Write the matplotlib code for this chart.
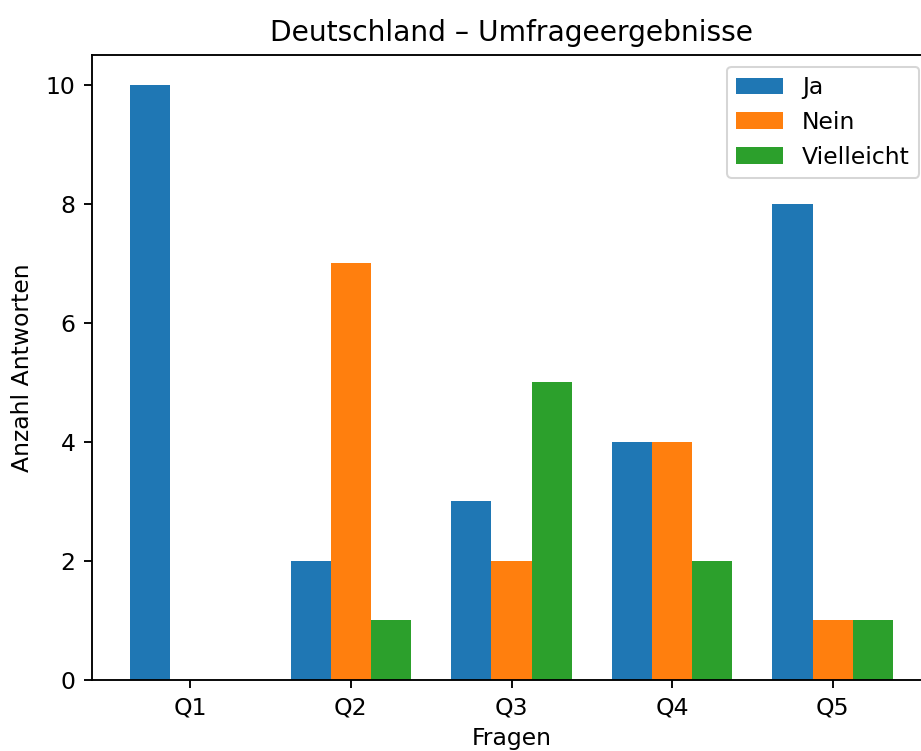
import matplotlib
matplotlib.use("Agg")
import matplotlib.pyplot as plt
import numpy as np

questions = ["Q1", "Q2", "Q3", "Q4", "Q5"]
ja = [10, 2, 3, 4, 8]
nein = [0, 7, 2, 4, 1]
vielleicht = [0, 1, 5, 2, 1]

s = 1.15
plt.rcParams.update({
    "font.size": 10 * s,
    "axes.linewidth": 0.8 * s,
    "xtick.major.size": 3.5 * s,
    "ytick.major.size": 3.5 * s,
    "xtick.major.width": 0.8 * s,
    "ytick.major.width": 0.8 * s,
    "xtick.major.pad": 3.5 * s,
    "ytick.major.pad": 3.5 * s,
    "axes.titlepad": 6.0 * s,
})

DPI = 147
fig = plt.figure(figsize=(921 / DPI, 751 / DPI), dpi=DPI)
ax = fig.add_axes([92 / 921, (751 - 680) / 751, 839 / 921, 625 / 751])

x = np.arange(len(questions))
w = 0.25
ax.bar(x - w, ja, w, label="Ja", color="#1f77b4")
ax.bar(x, nein, w, label="Nein", color="#ff7f0e")
ax.bar(x + w, vielleicht, w, label="Vielleicht", color="#2ca02c")

ax.set_xticks(x)
ax.set_xticklabels(questions)
ax.set_xlabel("Fragen", labelpad=3.5)
ax.set_ylabel("Anzahl Antworten", labelpad=5.6)
ax.set_title("Deutschland – Umfrageergebnisse")
ax.legend(loc="upper right")

fig.savefig("out.png", dpi=DPI)
